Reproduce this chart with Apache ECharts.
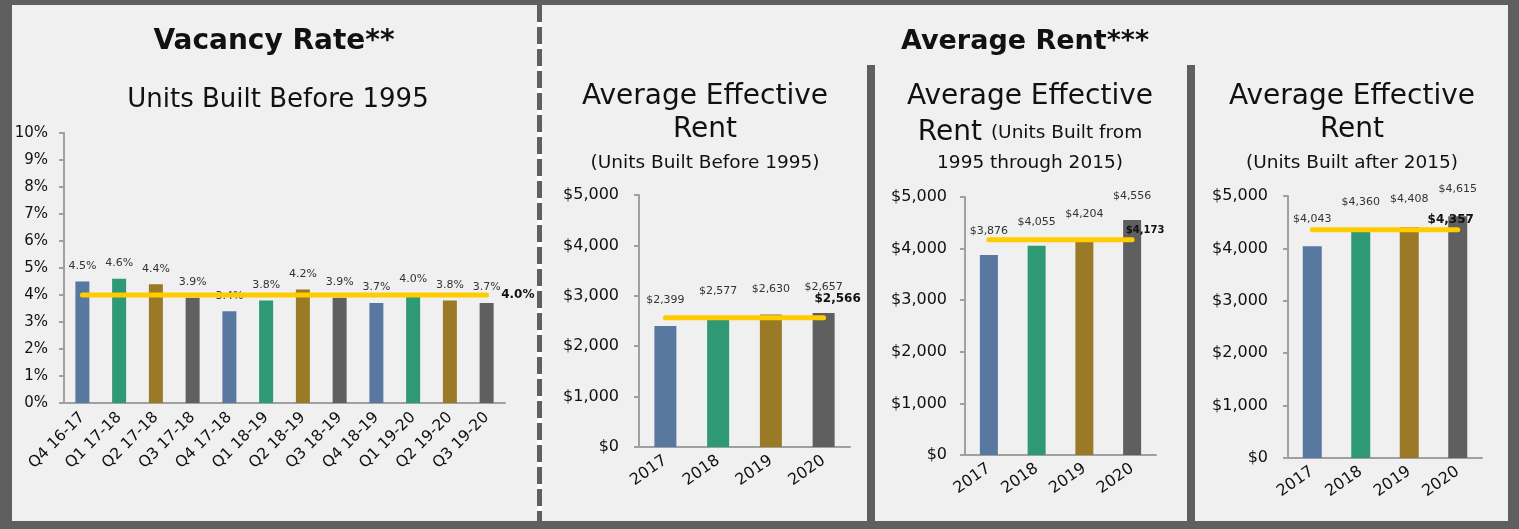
<!DOCTYPE html>
<html>
<head>
<meta charset="utf-8">
<title>Vacancy Rate and Average Rent</title>
<script src="https://cdn.jsdelivr.net/npm/echarts@6/dist/echarts.min.js"></script>
<style>
  html, body { margin: 0; padding: 0; background: #5f5f5f; }
  #main { width: 1519px; height: 529px; }
</style>
</head>
<body>
<div id="main"></div>
<script>
// vacancy, units built before 1995
const quarters = ['Q4 16-17', 'Q1 17-18', 'Q2 17-18', 'Q3 17-18', 'Q4 17-18', 'Q1 18-19',
  'Q2 18-19', 'Q3 18-19', 'Q4 18-19', 'Q1 19-20', 'Q2 19-20', 'Q3 19-20'];
const vacancyRate = [4.5, 4.6, 4.4, 3.9, 3.4, 3.8, 4.2, 3.9, 3.7, 4.0, 3.8, 3.7];
const vacancyAvg = 4.0;

// average effective rent
const years = ['2017', '2018', '2019', '2020'];
const rentBefore1995 = [2399, 2577, 2630, 2657];
const rentBefore1995Avg = 2566;
const rent1995to2015 = [3876, 4055, 4204, 4556];
const rent1995to2015Avg = 4173;
const rentAfter2015 = [4043, 4360, 4408, 4615];
const rentAfter2015Avg = 4357;

const FONT = '"DejaVu Sans", sans-serif';
const palette = ['#5878a0', '#2e9974', '#9a7a26', '#5f5f5f'];
const axisGray = '#a0a0a0';

const pct = v => v.toFixed(1) + '%';
const usd = v => '$' + v.toLocaleString('en-US');

function xAxis(idx, cats, rotate, fontSize, margin) {
  return {
    type: 'category', gridIndex: idx, data: cats,
    axisLine: { lineStyle: { color: axisGray, width: 2 } },
    axisTick: { length: 5, lineStyle: { color: axisGray, width: 2 } },
    axisLabel: { rotate: rotate, margin: margin, color: '#111', fontFamily: FONT, fontSize: fontSize, interval: 0 }
  };
}

function yAxis(idx, max, interval, fmt, fontSize, margin) {
  return {
    type: 'value', gridIndex: idx, min: 0, max: max, interval: interval,
    splitLine: { show: false },
    axisLine: { show: true, lineStyle: { color: axisGray, width: 2 } },
    axisTick: { show: true, length: 5, lineStyle: { color: axisGray, width: 2 } },
    axisLabel: { formatter: fmt, margin: margin, color: '#111', fontFamily: FONT, fontSize: fontSize }
  };
}

function bars(idx, data, width, fmt, dist) {
  return {
    type: 'bar', xAxisIndex: idx, yAxisIndex: idx, data: data, barWidth: width,
    itemStyle: { color: p => palette[p.dataIndex % 4] },
    label: { show: true, position: 'top', distance: dist, formatter: p => fmt(p.value),
      color: '#333', fontFamily: FONT, fontSize: 11 }
  };
}

function avgLine(idx, cats, avg, fmt, label) {
  const last = cats.length - 1;
  return {
    type: 'line', xAxisIndex: idx, yAxisIndex: idx, z: 3,
    data: cats.map(() => avg), symbol: 'circle', symbolSize: 1, showSymbol: true, silent: true,
    itemStyle: { color: '#ffcc00' },
    lineStyle: { color: '#ffcc00', width: 5, cap: 'round' },
    label: Object.assign({
      show: true, fontWeight: 'bold', color: '#111', fontFamily: FONT,
      formatter: p => p.dataIndex === last ? fmt(avg) : ''
    }, label)
  };
}

function text(x, y, str, size, weight, extra) {
  return {
    type: 'text', x: x, y: y,
    style: Object.assign({ text: str, fill: '#111', textAlign: 'center', textVerticalAlign: 'middle',
      font: (weight || 'normal') + ' ' + size + 'px ' + FONT }, extra)
  };
}

const chart = echarts.init(document.getElementById('main'));
chart.setOption({
  backgroundColor: '#5f5f5f',
  animation: false,
  graphic: [
    { type: 'rect', shape: { x: 12, y: 5, width: 1496, height: 516 }, style: { fill: '#f0f0f0' } },
    { type: 'rect', shape: { x: 537, y: 5, width: 5, height: 516 }, style: { fill: '#ffffff' } },
    { type: 'line', shape: { x1: 539.5, y1: 5, x2: 539.5, y2: 521 },
      style: { stroke: '#5f5f5f', lineWidth: 5, lineDash: [17, 5] } },
    { type: 'rect', shape: { x: 867, y: 65, width: 8, height: 456 }, style: { fill: '#5f5f5f' } },
    { type: 'rect', shape: { x: 1187, y: 65, width: 8, height: 456 }, style: { fill: '#5f5f5f' } },

    text(274, 42, 'Vacancy Rate**', 28, 'bold'),
    text(278, 100, 'Units Built Before 1995', 26),
    text(1025, 42, 'Average Rent***', 27, 'bold'),

    text(705, 97, 'Average Effective', 28),
    text(705, 130, 'Rent', 28),
    text(705, 163, '(Units Built Before 1995)', 18.5),

    text(1030, 97, 'Average Effective', 28),
    text(1030, 133, '{a|Rent} {b|(Units Built from}', 28,
      'normal', { rich: { a: { fontSize: 28, fontFamily: FONT, fill: '#111' }, b: { fontSize: 18.5, fontFamily: FONT, fill: '#111' } } }),
    text(1030, 163, '1995 through 2015)', 18.5),

    text(1352, 97, 'Average Effective', 28),
    text(1352, 130, 'Rent', 28),
    text(1352, 163, '(Units Built after 2015)', 18.5)
  ],
  grid: [
    { left: 64, top: 133, width: 441, height: 270 },
    { left: 639, top: 195, width: 211, height: 252 },
    { left: 965, top: 197, width: 191, height: 258 },
    { left: 1288, top: 196, width: 194, height: 262 }
  ],
  xAxis: [
    xAxis(0, quarters, 45, 15.5, 12),
    xAxis(1, years, 35, 16, 12),
    xAxis(2, years, 35, 16, 12),
    xAxis(3, years, 35, 16, 12)
  ],
  yAxis: [
    yAxis(0, 10, 1, '{value}%', 15, 16),
    yAxis(1, 5000, 1000, usd, 16, 20),
    yAxis(2, 5000, 1000, usd, 16, 18),
    yAxis(3, 5000, 1000, usd, 16, 20)
  ],
  series: [
    bars(0, vacancyRate, 14, pct, 10),
    avgLine(0, quarters, vacancyAvg, pct, { position: 'right', distance: 14, fontSize: 12 }),

    bars(1, rentBefore1995, 22, usd, 20),
    avgLine(1, years, rentBefore1995Avg, usd, { position: 'top', distance: 12, offset: [14, 0], fontSize: 12 }),

    bars(2, rent1995to2015, 18, usd, 18),
    avgLine(2, years, rent1995to2015Avg, usd, { position: 'top', distance: 4, offset: [13, 0], fontSize: 10 }),

    bars(3, rentAfter2015, 19, usd, 22),
    avgLine(3, years, rentAfter2015Avg, usd, { position: 'top', distance: 3, offset: [-7, 0], fontSize: 12 })
  ]
});
</script>
</body>
</html>
